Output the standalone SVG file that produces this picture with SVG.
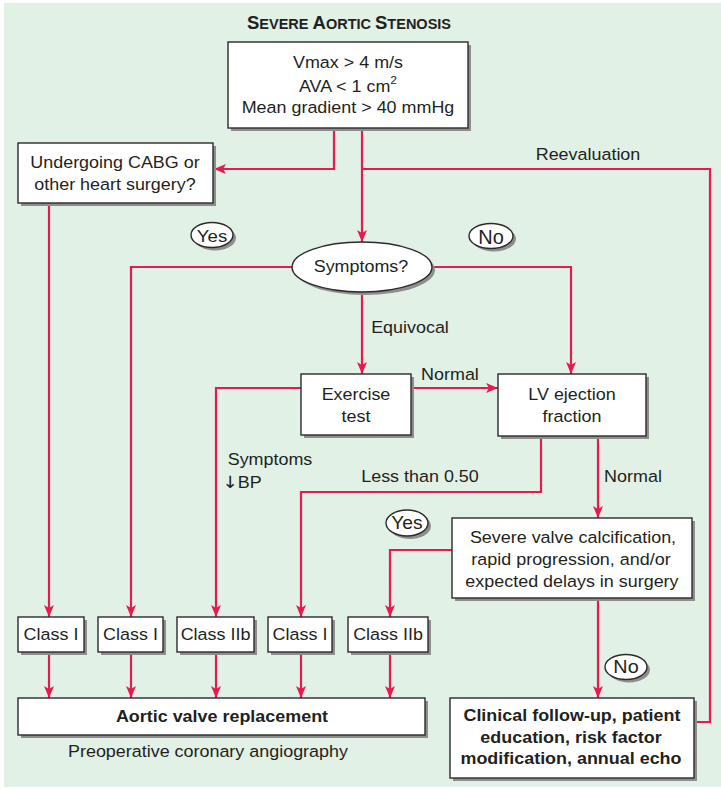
<svg xmlns="http://www.w3.org/2000/svg" width="721" height="789" viewBox="0 0 721 789">
<style>
.bg{fill:#e1f1e6}
.box{fill:#fff;stroke:#2b2b2b;stroke-width:1.4}
.sh{fill:#8e8e8e}
.t{font-family:"Liberation Sans",Arial,Helvetica,sans-serif;font-size:16.3px;fill:#231f20;text-anchor:middle;transform-box:fill-box;transform-origin:center;transform:scaleX(1.1)}
.b{font-weight:bold}
.ttl{font-family:"Liberation Sans",Arial,Helvetica,sans-serif;font-weight:bold;fill:#231f20;text-anchor:middle}
.c{fill:none;stroke:#e8194f;stroke-width:2.2}
.a{marker-end:url(#ah)}
</style>
<defs>
<marker id="ah" viewBox="0 0 12 10" refX="12" refY="5" markerWidth="12" markerHeight="10" markerUnits="userSpaceOnUse" orient="auto">
<path d="M0,0 L12,5 L0,10 L3,5 z" fill="#e8194f"/>
</marker>
</defs>
<rect class="bg" x="4" y="3" width="717" height="784"/>
<text class="ttl" x="349" y="29"><tspan font-size="18.5">S</tspan><tspan font-size="14.5">EVERE </tspan><tspan font-size="18.5">A</tspan><tspan font-size="14.5">ORTIC </tspan><tspan font-size="18.5">S</tspan><tspan font-size="14.5">TENOSIS</tspan></text>

<g id="connectors">
<path class="c a" d="M334,128 V169 H214"/>
<path class="c a" d="M362,128 V242"/>
<path class="c" d="M362,169 H710 V722 H694"/>
<path class="c a" d="M292,267 H131 V617"/>
<path class="c a" d="M432,267 H571 V374"/>
<path class="c a" d="M362,292 V374"/>
<path class="c a" d="M49,203 V617"/>
<path class="c a" d="M411,388 H498"/>
<path class="c a" d="M301,388 H216 V617"/>
<path class="c a" d="M541,436 V492 H301 V617"/>
<path class="c a" d="M598,436 V518"/>
<path class="c a" d="M452,550 H390 V617"/>
<path class="c a" d="M598,598 V698"/>
<path class="c a" d="M49,652 V698"/>
<path class="c a" d="M131,652 V698"/>
<path class="c a" d="M216,652 V698"/>
<path class="c a" d="M301,652 V698"/>
<path class="c a" d="M390,652 V698"/>
</g>
<g id="labels">
<text class="t" x="588" y="160">Reevaluation</text>
<text class="t" x="410" y="333">Equivocal</text>
<text class="t" x="450" y="380">Normal</text>
<text class="t" x="270" y="465">Symptoms</text>
<text class="t" x="242" y="488"><tspan font-family="DejaVu Sans" font-size="17">↓</tspan>BP</text>
<text class="t" x="420" y="482">Less than 0.50</text>
<text class="t" x="633" y="482">Normal</text>
<text class="t" x="208" y="757">Preoperative coronary angiography</text>
</g>

<g id="criteria">
<rect class="sh" x="231" y="45" width="240" height="86"/>
<rect class="box" x="228" y="42" width="240" height="86"/>
<text class="t" x="348" y="68">Vmax &gt; 4 m/s</text>
<text class="t" x="348" y="92">AVA &lt; 1 cm<tspan dy="-8" font-size="11">2</tspan></text>
<text class="t" x="348" y="113">Mean gradient &gt; 40 mmHg</text>
</g>
<g id="cabg">
<rect class="sh" x="21" y="146" width="195" height="60"/>
<rect class="box" x="18" y="143" width="195" height="60"/>
<text class="t" x="115" y="168">Undergoing CABG or</text>
<text class="t" x="115" y="190">other heart surgery?</text>
</g>
<g id="yes1">
<ellipse class="sh" cx="215" cy="238" rx="21" ry="12.5"/>
<ellipse class="box" cx="212" cy="235" rx="21" ry="12.5"/>
<text class="t" x="212" y="242" style="font-size:17px">Yes</text>
</g>
<g id="no1">
<ellipse class="sh" cx="494" cy="239" rx="22" ry="12.5"/>
<ellipse class="box" cx="491" cy="236" rx="22" ry="12.5"/>
<text class="t" x="491" y="243.5" style="font-size:20px;transform:none">No</text>
</g>
<g id="symptoms">
<ellipse class="sh" cx="365" cy="270" rx="70" ry="25"/>
<ellipse class="box" cx="362" cy="267" rx="70" ry="25"/>
<text class="t" x="361" y="272">Symptoms?</text>
</g>
<g id="exercise">
<rect class="sh" x="304" y="377" width="110" height="61"/>
<rect class="box" x="301" y="374" width="110" height="61"/>
<text class="t" x="356" y="400">Exercise</text>
<text class="t" x="356" y="422">test</text>
</g>
<g id="lvef">
<rect class="sh" x="501" y="377" width="148" height="62"/>
<rect class="box" x="498" y="374" width="148" height="62"/>
<text class="t" x="572" y="400">LV ejection</text>
<text class="t" x="572" y="422">fraction</text>
</g>
<g id="yes2">
<ellipse class="sh" cx="410" cy="526" rx="21" ry="13"/>
<ellipse class="box" cx="407" cy="523" rx="21" ry="13"/>
<text class="t" x="407" y="529" style="font-size:17.5px">Yes</text>
</g>
<g id="severe">
<rect class="sh" x="455" y="521" width="240" height="80"/>
<rect class="box" x="452" y="518" width="240" height="80"/>
<text class="t" x="573" y="543">Severe valve calcification,</text>
<text class="t" x="571" y="565">rapid progression, and/or</text>
<text class="t" x="572" y="587">expected delays in surgery</text>
</g>
<g id="class1">
<rect class="sh" x="21" y="620" width="66" height="35"/>
<rect class="box" x="18" y="617" width="66" height="35"/>
<text class="t" x="51" y="640">Class I</text>
</g>
<g id="class2">
<rect class="sh" x="101" y="620" width="65" height="35"/>
<rect class="box" x="98" y="617" width="65" height="35"/>
<text class="t" x="130.5" y="640">Class I</text>
</g>
<g id="class3">
<rect class="sh" x="180" y="620" width="77" height="35"/>
<rect class="box" x="177" y="617" width="77" height="35"/>
<text class="t" x="215.5" y="640">Class IIb</text>
</g>
<g id="class4">
<rect class="sh" x="271" y="620" width="64" height="35"/>
<rect class="box" x="268" y="617" width="64" height="35"/>
<text class="t" x="300" y="640">Class I</text>
</g>
<g id="class5">
<rect class="sh" x="351" y="620" width="80" height="35"/>
<rect class="box" x="348" y="617" width="80" height="35"/>
<text class="t" x="388" y="640">Class IIb</text>
</g>
<g id="no2">
<ellipse class="sh" cx="629" cy="670" rx="21" ry="12.5"/>
<ellipse class="box" cx="626" cy="667" rx="21" ry="12.5"/>
<text class="t" x="626" y="673.5" style="font-size:18px">No</text>
</g>
<g id="avr">
<rect class="sh" x="21" y="701" width="407" height="37"/>
<rect class="box" x="18" y="698" width="407" height="37"/>
<text class="t b" x="222" y="722">Aortic valve replacement</text>
</g>
<g id="followup">
<rect class="sh" x="453" y="701" width="244" height="80"/>
<rect class="box" x="450" y="698" width="244" height="80"/>
<text class="t b" x="572" y="721">Clinical follow-up, patient</text>
<text class="t b" x="571" y="743">education, risk factor</text>
<text class="t b" x="571" y="764">modification, annual echo</text>
</g>
</svg>
